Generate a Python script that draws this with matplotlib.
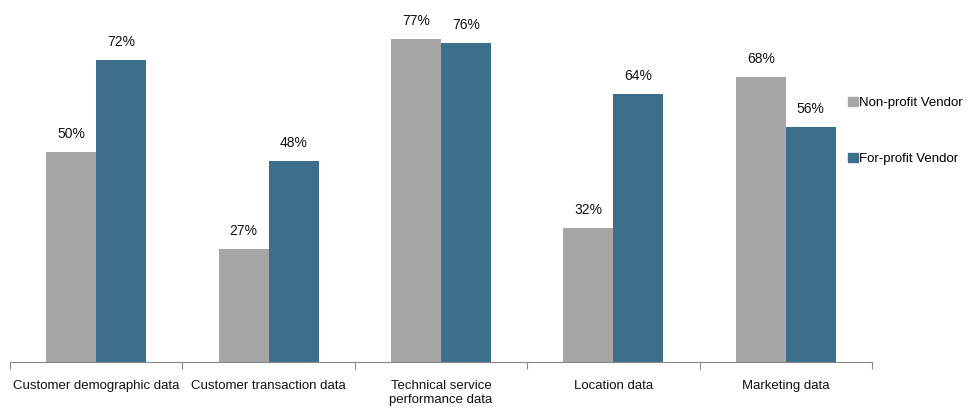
import matplotlib
matplotlib.use("Agg")
import matplotlib.pyplot as plt
import numpy as np
from matplotlib.patches import Patch

categories = ["Customer demographic data", "Customer transaction data",
              "Technical service\nperformance data", "Location data", "Marketing data"]
non_profit = [50, 27, 77, 32, 68]
for_profit = [72, 48, 76, 64, 56]
series_names = ["Non-profit Vendor", "For-profit Vendor"]

GRAY = "#A6A6A6"
BLUE = "#3B6F8A"
FS = 9.5
plt.rcParams["font.family"] = ["Liberation Sans", "DejaVu Sans"]

fig = plt.figure(figsize=(9.66, 4.15), dpi=100)
ax = fig.add_axes([10 / 966, 53 / 415, 862 / 966, 362 / 415])

x = np.arange(len(categories))
w = 0.29
b1 = ax.bar(x - w / 2, non_profit, w, color=GRAY)
b2 = ax.bar(x + w / 2, for_profit, w, color=BLUE)
for bars, vals in ((b1, non_profit), (b2, for_profit)):
    for r, v in zip(bars, vals):
        ax.text(r.get_x() + r.get_width() / 2, v + 4.3, f"{v}%", ha="center",
                va="center", fontsize=FS + 0.5, color="#111111")

ax.set_xlim(-0.5, len(categories) - 0.5)
ax.set_ylim(0, 86.3)
for s in ("top", "right", "left"):
    ax.spines[s].set_visible(False)
ax.spines["bottom"].set_color("#888888")
ax.set_yticks([])
ax.set_xticks(np.arange(len(categories) + 1) - 0.5)
ax.set_xticklabels([])
ax.tick_params(axis="x", length=5, color="#888888", direction="out")
ax.set_xticks(x, minor=True)
ax.set_xticklabels(categories, minor=True, fontsize=FS, color="#111111")
ax.tick_params(axis="x", which="minor", length=0, pad=13)

handles = [Patch(color=GRAY), Patch(color=BLUE)]
fig.legend(handles, series_names, loc="center left", bbox_to_anchor=(843 / 966, 1 - 131 / 415),
           frameon=False, fontsize=FS, handlelength=0.75, handleheight=0.75,
           handletextpad=0.1, labelspacing=3.3, borderaxespad=0.0)

fig.savefig("out.png", dpi=100)
